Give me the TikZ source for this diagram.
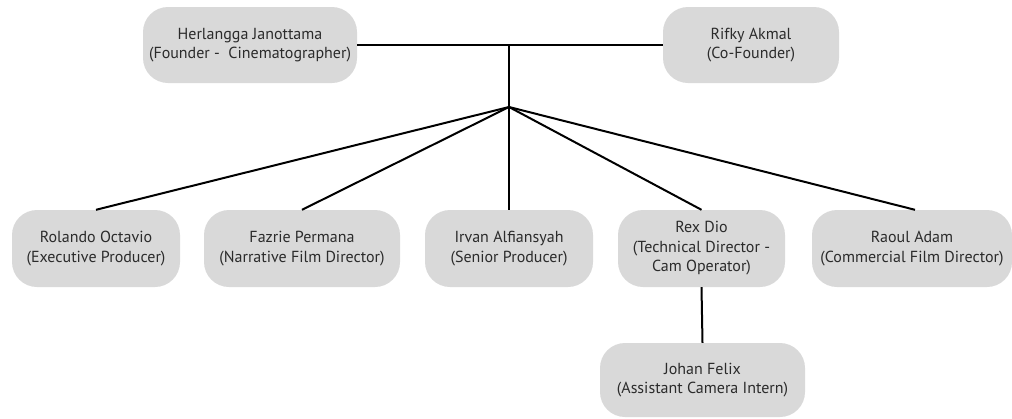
\documentclass[tikz,border=0pt]{standalone}
\usepackage{fontspec}
\setmainfont{PT Sans}
\begin{document}
\begin{tikzpicture}[x=1pt,y=-1pt,
  person/.style={fill=boxgray, draw=none, rounded corners=25pt, inner sep=0pt,
    align=center, text=textdark, font=\fontsize{16}{19.5}\selectfont},
  link/.style={line width=2pt, draw=black}]
\definecolor{boxgray}{HTML}{D9D9D9}
\definecolor{textdark}{HTML}{2B2B2B}
\useasboundingbox (0,0) rectangle (1012,418);
\node[person, minimum width=214pt, minimum height=76pt] (her) at (250,45) {Herlangga Janottama\\(Founder -\ \ Cinematographer)};
\node[person, minimum width=176pt, minimum height=76pt] (rif) at (751,45) {Rifky Akmal\\(Co-Founder)};
\node[person, minimum width=168pt, minimum height=77pt] (rol) at (96,248.5) {Rolando Octavio\\(Executive Producer)};
\node[person, minimum width=196pt, minimum height=77pt] (faz) at (302,248.5) {Fazrie Permana\\(Narrative Film Director)};
\node[person, minimum width=168pt, minimum height=77pt] (irv) at (509,248.5) {Irvan Alfiansyah\\(Senior Producer)};
\node[person, minimum width=167pt, minimum height=77pt] (rex) at (701.5,248.5) {Rex Dio\\(Technical Director -\\Cam Operator)};
\node[person, minimum width=200pt, minimum height=77pt] (rao) at (912,248.5) {Raoul Adam\\(Commercial Film Director)};
\node[person, minimum width=205pt, minimum height=74pt] (joh) at (702.5,380) {Johan Felix\\(Assistant Camera Intern)};
\coordinate (top) at (509,45);
\coordinate (j) at (509,107);
\draw[link] (her.east) -- (rif.west);
\draw[link] (top) -- (j);
\draw[link] (j) -- (rol.north);
\draw[link] (j) -- (faz.north);
\draw[link] (j) -- (irv.north);
\draw[link] (j) -- (rex.north);
\draw[link] (j) -- ([xshift=3pt]rao.north);
\draw[link] (rex.south) -- (joh.north);
\end{tikzpicture}
\end{document}
